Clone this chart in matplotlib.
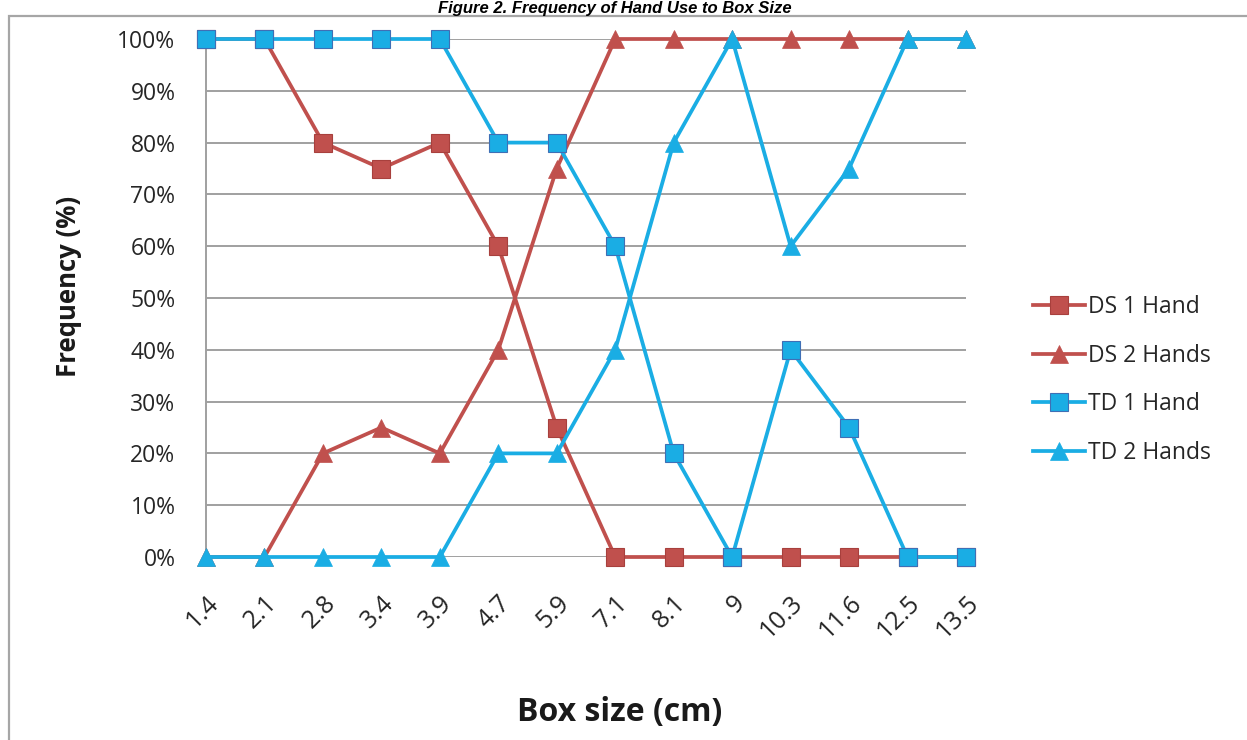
import matplotlib
matplotlib.use("Agg")
import matplotlib.pyplot as plt
from matplotlib.patches import Rectangle

box_sizes = ["1.4", "2.1", "2.8", "3.4", "3.9", "4.7", "5.9", "7.1", "8.1", "9", "10.3", "11.6", "12.5", "13.5"]
ds_1_hand = [100, 100, 80, 75, 80, 60, 25, 0, 0, 0, 0, 0, 0, 0]
ds_2_hands = [0, 0, 20, 25, 20, 40, 75, 100, 100, 100, 100, 100, 100, 100]
td_1_hand = [100, 100, 100, 100, 100, 80, 80, 60, 20, 0, 40, 25, 0, 0]
td_2_hands = [0, 0, 0, 0, 0, 20, 20, 40, 80, 100, 60, 75, 100, 100]
y_ticks = [0, 10, 20, 30, 40, 50, 60, 70, 80, 90, 100]

W, H = 1247, 740
fig = plt.figure(figsize=(W / 100, H / 100), dpi=100)
fig.patch.set_facecolor("white")

# outer chart border
fig.add_artist(Rectangle((9 / W, -0.05), 1.2, 1 - 16 / H + 0.05, transform=fig.transFigure,
                         fill=False, edgecolor="#a6a6a6", linewidth=1.6))

ax = fig.add_axes([206 / W, 1 - 557 / H, (966 - 206) / W, (557 - 39) / H])
ax.set_facecolor("none")
x = list(range(len(box_sizes)))

red = "#C0504D"
red_edge = "#A8403D"
blue = "#1AADE4"
blue_edge = "#3F6FB5"

common = dict(lw=2.7, ms=12.5, clip_on=False, zorder=3)
ax.plot(x, ds_1_hand, color=red, marker="s", mfc=red, mec=red_edge, mew=0.8, label="DS 1 Hand", **common)
ax.plot(x, ds_2_hands, color=red, marker="^", mfc=red, mec=red, mew=0.5, label="DS 2 Hands", **common)
ax.plot(x, td_1_hand, color=blue, marker="s", mfc=blue, mec=blue_edge, mew=0.8, label="TD 1 Hand", **common)
ax.plot(x, td_2_hands, color=blue, marker="^", mfc=blue, mec=blue, mew=0.5, label="TD 2 Hands", **common)

ax.set_xlim(0, len(box_sizes) - 1)
ax.set_ylim(0, 100)
ax.set_yticks(y_ticks)
ax.set_yticklabels([f"{v}%" for v in y_ticks])
ax.set_xticks(x)
ax.set_xticklabels(box_sizes, rotation=45, ha="right", rotation_mode="anchor")
ax.yaxis.grid(True, color="#a0a0a0", lw=1.4)
ax.set_axisbelow(True)
for s in ["top", "right", "bottom"]:
    ax.spines[s].set_visible(False)
ax.spines["left"].set_color("#a0a0a0")
ax.spines["left"].set_linewidth(1.4)
ax.tick_params(axis="both", length=0, labelcolor="#262626")
ax.tick_params(axis="y", pad=22, labelsize=16.5)
ax.tick_params(axis="x", pad=24, labelsize=18)
for lab in ax.get_xticklabels() + ax.get_yticklabels():
    lab.set_family("Open Sans")

fig.text(68 / W, 1 - 286 / H, "Frequency (%)", rotation=90, ha="center", va="center",
         fontsize=18.5, fontweight="bold", family="Open Sans", color="#1a1a1a")
fig.text(620 / W, 1 - 713 / H, "Box size (cm)", ha="center", va="center",
         fontsize=23, fontweight="bold", family="Open Sans", color="#1a1a1a")
fig.text(615 / W, 1 - 1 / H, "Figure 2. Frequency of Hand Use to Box Size", ha="center", va="top",
         fontsize=12, fontweight="bold", style="italic", family="Liberation Sans", color="black")

leg = ax.legend(loc="center left", bbox_to_anchor=(1012 / W, 1 - 380 / H), bbox_transform=fig.transFigure,
                frameon=False, handlelength=2.3, handletextpad=0.1, labelspacing=1.08,
                prop={"family": "Open Sans", "size": 16.5})
for t in leg.get_texts():
    t.set_color("#262626")

fig.savefig("out.png", dpi=100)
